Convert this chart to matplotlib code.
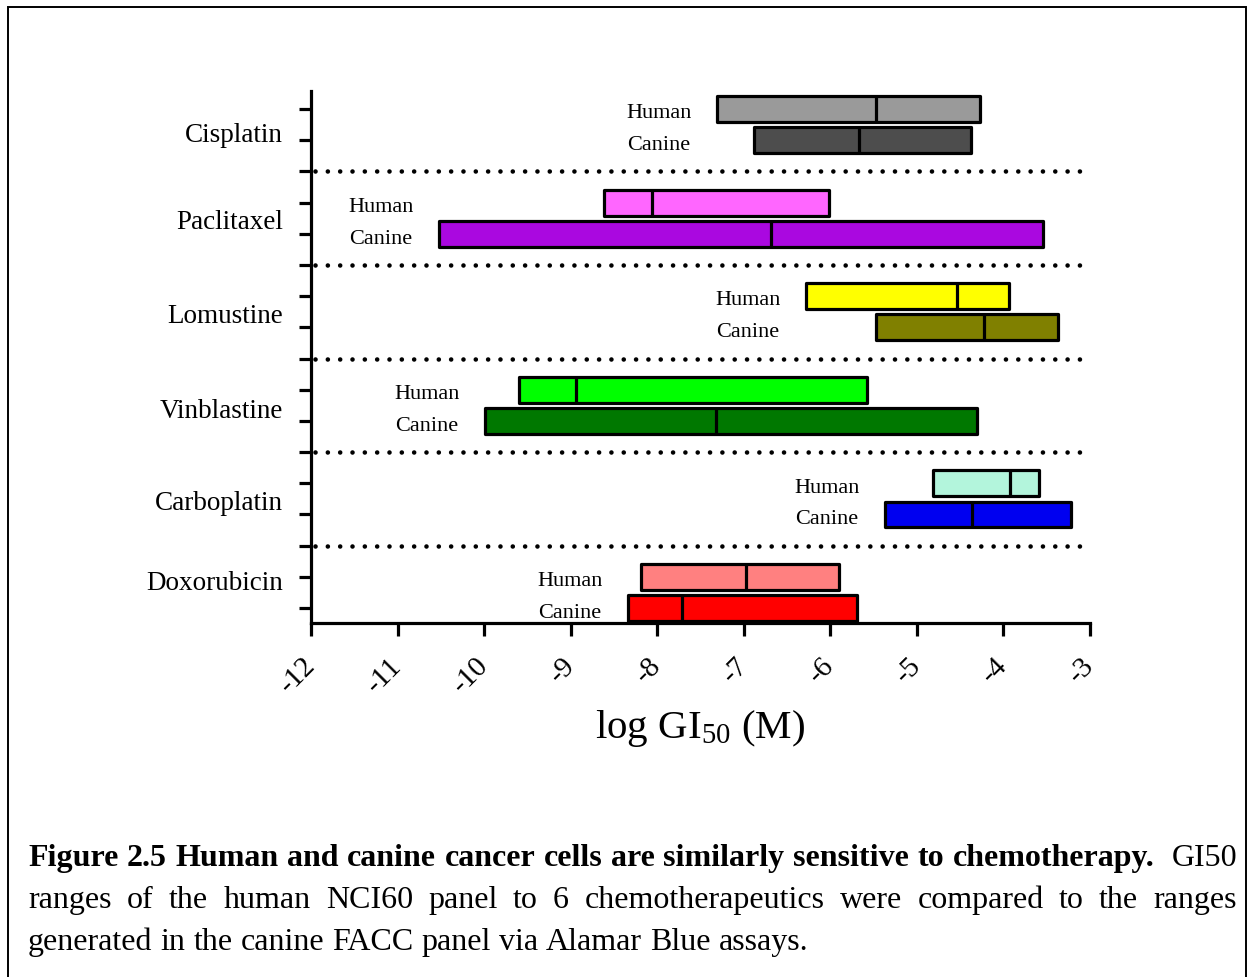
import matplotlib
matplotlib.use("Agg")
import matplotlib.pyplot as plt
from matplotlib.patches import Rectangle
from matplotlib.transforms import blended_transform_factory

plt.rcParams["font.family"] = ["Liberation Serif", "DejaVu Serif"]
plt.rcParams["mathtext.fontset"] = "custom"
plt.rcParams["mathtext.rm"] = "Liberation Serif"
plt.rcParams["mathtext.default"] = "regular"

drugs = ["Cisplatin", "Paclitaxel", "Lomustine", "Vinblastine", "Carboplatin", "Doxorubicin"]

# log GI50 ranges per panel: minimum, median, maximum
human_min = [-7.31, -8.61, -6.28, -9.60, -4.81, -8.19]
human_med = [-5.47, -8.06, -4.54, -8.94, -3.92, -6.98]
human_max = [-4.27, -6.01, -3.94, -5.58, -3.59, -5.90]
canine_min = [-6.88, -10.52, -5.47, -9.99, -5.37, -8.34]
canine_med = [-5.67, -6.69, -4.23, -7.32, -4.36, -7.71]
canine_max = [-4.38, -3.54, -3.37, -4.31, -3.22, -5.69]

human_colors = ["#9a9a9a", "#ff66ff", "#ffff00", "#00ff00", "#b3f5dc", "#ff8080"]
canine_colors = ["#4d4d4d", "#aa08e0", "#808000", "#007800", "#0000f0", "#ff0000"]

xticks = [-12, -11, -10, -9, -8, -7, -6, -5, -4, -3]

caption_bold = "Figure 2.5 Human and canine cancer cells are similarly sensitive to chemotherapy."
caption_lines = [
    "GI50",
    "ranges of the human NCI60 panel to 6 chemotherapeutics were compared to the ranges",
    "generated in the canine FACC panel via Alamar Blue assays.",
]

W, H = 1253, 978
fig = plt.figure(figsize=(W / 100, H / 100), dpi=100)
ax = fig.add_axes([311 / W, 1 - 624 / H, 779 / W, 532 / H])

LW = 2.3
bar_h = 0.83
human_rows = [3 * i for i in range(len(drugs))]
canine_rows = [3 * i + 1 for i in range(len(drugs))]
sep_rows = [3 * i + 2 for i in range(len(drugs) - 1)]

for rows, lo, med, hi, cols in [
    (human_rows, human_min, human_med, human_max, human_colors),
    (canine_rows, canine_min, canine_med, canine_max, canine_colors),
]:
    widths = [h - l for l, h in zip(lo, hi)]
    bars = ax.barh(rows, widths, left=lo, height=bar_h, color=cols,
                   edgecolor="black", linewidth=LW, zorder=3)
    for b in bars:
        b.set_joinstyle("round")
    ax.vlines(med, [r - bar_h / 2 for r in rows], [r + bar_h / 2 for r in rows],
              color="black", linewidth=LW, zorder=4)

# dotted separators between drugs
for s in sep_rows:
    ax.plot([-11.95, -3.05], [s, s], color="black", linewidth=3.3,
            linestyle=(0, (0.01, 2.68)), dash_capstyle="round", zorder=2)

# Human / Canine tags left of each pair
for i in range(len(drugs)):
    x = min(human_min[i], canine_min[i]) - 0.67
    ax.text(x, human_rows[i] + 0.12, "Human", ha="center", va="center", fontsize=16)
    ax.text(x, canine_rows[i] + 0.14, "Canine", ha="center", va="center", fontsize=16)

# drug names
label_y = [0.83, 3.62, 6.63, 9.65, 12.6, 15.19]
trans = blended_transform_factory(ax.transAxes, ax.transData)
for name, y in zip(drugs, label_y):
    ax.text(-0.036, y, name, transform=trans, ha="right", va="center", fontsize=19.5)

ax.set_xlim(-12, -3)
ax.set_ylim(16.48, -0.58)
ax.set_yticks(range(3 * len(drugs) - 1))
ax.set_yticklabels([])
ax.set_xticks(xticks)
ax.set_xticklabels([str(t) for t in xticks], rotation=45, ha="right",
                   va="center", rotation_mode="anchor", fontsize=21)
ax.tick_params(axis="x", length=9.4, width=LW, pad=18)
ax.tick_params(axis="y", length=8.6, width=LW)
for side in ["top", "right"]:
    ax.spines[side].set_visible(False)
for side in ["left", "bottom"]:
    ax.spines[side].set_linewidth(LW)

fig.text(700.5 / W, 1 - 738 / H, r"log GI$_{50}$ (M)", ha="center", va="baseline", fontsize=29.5)

# caption, first two lines justified
fig.canvas.draw()
renderer = fig.canvas.get_renderer()


def place_line(words, y_px, x0=28, x1=1237, justify=True, gaps=None):
    texts = [fig.text(0, 1 - y_px / H, w, fontsize=23, va="baseline", ha="left",
                      fontweight="bold" if bold else "normal")
             for w, bold in words]
    widths = [t.get_window_extent(renderer).width for t in texts]
    if gaps is None:
        gaps = [1] * (len(words) - 1)
    if justify:
        unit = (x1 - x0 - sum(widths)) / sum(gaps)
    else:
        unit = 8.0
    x = x0
    for i, t in enumerate(texts):
        t.set_x(x / W)
        x += widths[i]
        if i < len(gaps):
            x += gaps[i] * unit


line1 = [(w, True) for w in caption_bold.split()] + [(caption_lines[0], False)]
gaps1 = [1] * (len(line1) - 2) + [2]
place_line(line1, 866, gaps=gaps1)
place_line([(w, False) for w in caption_lines[1].split()], 908)
place_line([(w, False) for w in caption_lines[2].split()], 950, justify=False)

fig.add_artist(Rectangle((8 / W, -0.02), (1246 - 8) / W, 1.02 - 8 / H, fill=False,
                         edgecolor="black", linewidth=1.4, transform=fig.transFigure))

fig.savefig("out.png", dpi=100, facecolor="white")
